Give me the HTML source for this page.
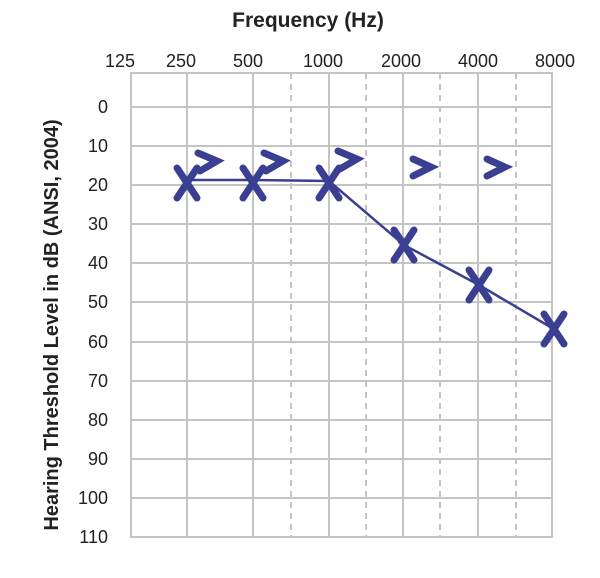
<!DOCTYPE html>
<html><head><style>body{margin:0;background:#fff}</style></head><body>
<svg width="600" height="573" xmlns="http://www.w3.org/2000/svg" font-family="Liberation Sans, sans-serif">
<rect width="600" height="573" fill="#fff"/>
<text x="308" y="27" font-size="21" font-weight="bold" text-anchor="middle" fill="#222">Frequency (Hz)</text>
<g font-size="18" fill="#222" text-anchor="middle">
<text x="120" y="67">125</text><text x="181" y="67">250</text><text x="248" y="67">500</text><text x="323" y="67">1000</text><text x="401" y="67">2000</text><text x="478" y="67">4000</text><text x="555" y="67">8000</text>
</g>
<g font-size="18" fill="#222" text-anchor="end">
<text x="108" y="113">0</text><text x="108" y="152">10</text><text x="108" y="191">20</text><text x="108" y="230">30</text><text x="108" y="269">40</text><text x="108" y="308">50</text><text x="108" y="348">60</text><text x="108" y="387">70</text><text x="108" y="426">80</text><text x="108" y="465">90</text><text x="108" y="504">100</text><text x="108" y="543">110</text>
</g>
<text transform="translate(58,325) rotate(-90)" font-size="20" font-weight="bold" text-anchor="middle" fill="#222">Hearing Threshold Level in dB (ANSI, 2004)</text>
<g stroke="#c4c4c4" stroke-width="2" fill="none">
<rect x="131" y="73" width="421" height="464"/>
<line x1="187" y1="73" x2="187" y2="537"/><line x1="253" y1="73" x2="253" y2="537"/><line x1="329" y1="73" x2="329" y2="537"/><line x1="403" y1="73" x2="403" y2="537"/><line x1="478" y1="73" x2="478" y2="537"/>
<g stroke-dasharray="6,5"><line x1="291" y1="73" x2="291" y2="537"/><line x1="366" y1="73" x2="366" y2="537"/><line x1="440" y1="73" x2="440" y2="537"/><line x1="516" y1="73" x2="516" y2="537"/></g>
<line x1="131" y1="107" x2="552" y2="107"/><line x1="131" y1="146" x2="552" y2="146"/><line x1="131" y1="185" x2="552" y2="185"/><line x1="131" y1="224" x2="552" y2="224"/><line x1="131" y1="263" x2="552" y2="263"/><line x1="131" y1="302" x2="552" y2="302"/><line x1="131" y1="342" x2="552" y2="342"/><line x1="131" y1="381" x2="552" y2="381"/><line x1="131" y1="420" x2="552" y2="420"/><line x1="131" y1="459" x2="552" y2="459"/><line x1="131" y1="498" x2="552" y2="498"/>
</g>
<g stroke="#3a3f91" fill="none">
<polyline stroke-width="2.5" points="187,180 253,180 329,181 404,245 479,285 552,328"/>
<g stroke-width="7" stroke-linecap="round">
<path d="M177,168 L197,198 M197,168 L177,198"/>
<path d="M243,168 L263,198 M263,168 L243,198"/>
<path d="M319,168 L339,198 M339,168 L319,198"/>
<path d="M394,230 L414,260 M414,230 L394,260"/>
<path d="M469,270 L489,300 M489,270 L469,300"/>
<path d="M544,314 L564,344 M564,314 L544,344"/>
<path d="M198,153 L217,161 L200,171"/>
<path d="M264,153 L283,161 L266,171"/>
<path d="M338,151 L357,159 L340,169"/>
<path d="M413,159 L431,167 L413,176"/>
<path d="M487,159 L505,167 L487,176"/>
</g></g>
</svg>
</body></html>
